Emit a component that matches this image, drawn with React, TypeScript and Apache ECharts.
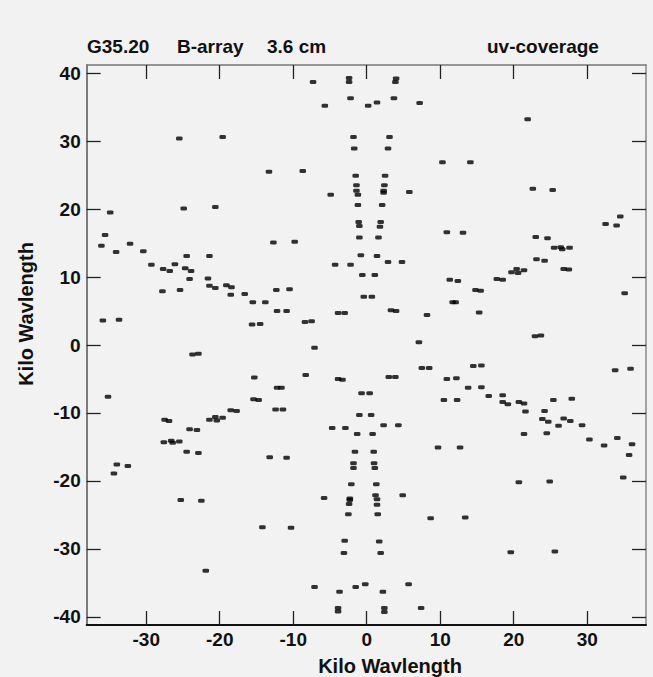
import React, { useEffect, useRef } from "react";
import * as echarts from "echarts";

const titleLeft = ["G35.20", "B-array", "3.6 cm"];
const titleRight = "uv-coverage";
const axisName = "Kilo Wavlength";
const xTicks = [-30, -20, -10, 0, 10, 20, 30];
const yTicks = [-40, -30, -20, -10, 0, 10, 20, 30, 40];

const upperLeft: number[][] = [
  [-25.5, 30.4], [-19.6, 30.6], [-13.3, 25.5], [-24.9, 20.1], [-20.6, 20.3], [-34.9, 19.5], [-35.6, 16.2],
  [-36.1, 14.6], [-32.2, 14.9], [-34.1, 13.7], [-30.4, 13.8], [-12.7, 15.1], [-24.5, 13.1], [-21.4, 13.1],
  [-2.4, 39.3], [-2.4, 38.7], [-7.3, 38.7], [-2.2, 36.3], [-5.7, 35.2], [-1.8, 30.6], [-1.7, 28.9],
  [-8.7, 25.6], [-1.5, 24.9], [-1.4, 23.5], [-1.4, 22.7], [-4.9, 22.1], [-1.2, 22.1], [-1.2, 20.6],
  [-1.1, 18.1], [-1.0, 17.5], [-1.0, 15.8], [-9.8, 15.2], [-0.8, 13.2],
  [-29.3, 11.8], [-27.7, 11.2], [-26.8, 10.9], [-26.1, 11.9], [-24.7, 11.3], [-23.9, 10.9], [-24.1, 9.7],
  [-21.6, 9.8], [-21.4, 8.7], [-20.6, 8.4], [-19.1, 8.8], [-18.4, 8.5], [-18.5, 7.4], [-16.6, 7.5],
  [-15.5, 6.3], [-13.8, 6.3], [-12.3, 8.1], [-12.2, 5.0], [-27.8, 7.9], [-25.4, 8.1], [-35.9, 3.6],
  [-33.7, 3.7], [-15.6, 3.0], [-14.5, 3.1],
  [-4.3, 11.8], [-2.2, 11.8], [-0.6, 10.3], [-10.5, 8.2], [-0.4, 7.1], [-10.9, 5.0], [-3.9, 4.7],
  [-3.0, 4.7], [-8.4, 3.4], [-7.5, 3.5],
];

const upperRight: number[][] = [
  [4.0, 39.2], [3.9, 38.7], [0.2, 35.2], [1.4, 35.7], [3.7, 36.3], [7.2, 35.6], [3.1, 30.6], [2.9, 28.9],
  [10.3, 26.9], [14.1, 26.9], [2.5, 24.9], [2.4, 23.5], [2.3, 22.7], [2.3, 22.4], [5.8, 22.5], [2.1, 20.6],
  [1.9, 18.1], [1.8, 17.4], [1.6, 15.8], [10.9, 16.6], [13.1, 16.5], [1.4, 13.1],
  [21.9, 33.2], [22.6, 23.0], [25.3, 22.8], [34.5, 18.9], [32.5, 17.8], [34.0, 17.6], [23.0, 15.9],
  [24.6, 15.7], [25.5, 14.3], [26.4, 14.4], [26.6, 14.1], [27.6, 14.3], [23.1, 12.6],
  [2.9, 12.2], [4.8, 12.2], [1.1, 10.3], [11.3, 9.6], [12.4, 9.4], [0.7, 7.1], [11.7, 6.3], [12.1, 6.3],
  [3.3, 5.1], [4.0, 5.0], [8.2, 4.4], [7.1, 0.4],
  [24.2, 12.4], [19.7, 10.7], [20.4, 11.2], [20.6, 10.6], [21.4, 11.0], [26.8, 11.2], [27.5, 11.1],
  [17.7, 9.7], [18.5, 9.6], [14.8, 8.1], [15.5, 8.0], [15.3, 4.8], [35.1, 7.6], [22.9, 1.3], [23.7, 1.4],
];

const lowerLeft: number[][] = [
  [-23.7, -1.4], [-22.9, -1.3], [-15.3, -4.8], [-12.2, -6.3], [-11.6, -6.3], [-35.2, -7.6], [-15.4, -8.0],
  [-14.7, -8.1], [-12.4, -9.5], [-11.4, -9.5], [-18.5, -9.6], [-17.7, -9.7], [-21.4, -11.0], [-20.6, -10.6],
  [-20.4, -11.1], [-19.6, -10.7], [-27.5, -11.0], [-26.9, -11.2], [-24.1, -12.4], [-23.1, -12.5],
  [-27.6, -14.3], [-26.6, -14.1], [-26.4, -14.4], [-25.5, -14.2],
  [-24.5, -15.7], [-22.9, -15.9], [-34.0, -17.6], [-32.5, -17.8], [-34.4, -18.9], [-13.2, -16.5],
  [-25.3, -22.8], [-22.5, -22.9], [-14.2, -26.8], [-21.9, -33.2],
  [-10.9, -16.6], [-1.6, -15.7], [-1.8, -17.4], [-1.8, -18.1], [-2.1, -20.5], [-5.8, -22.5], [-2.3, -22.6],
  [-2.3, -22.8], [-2.4, -23.4], [-2.5, -24.9], [-10.3, -26.9], [-3.0, -28.8], [-3.1, -30.6], [-7.1, -35.6],
  [-3.7, -36.3], [-1.5, -35.6], [-0.2, -35.2], [-3.9, -38.7], [-3.9, -39.2],
  [-7.1, -0.4], [-8.3, -4.4], [-3.9, -5.0], [-3.3, -5.1], [-0.7, -7.1], [-1.0, -10.3], [-4.7, -12.2],
  [-2.9, -12.2], [-1.3, -13.1],
];

const lowerRight: number[][] = [
  [0.95, -15.7], [1.0, -17.4], [1.1, -18.1], [1.3, -20.5], [1.2, -22.1], [1.4, -22.7], [1.4, -23.5],
  [1.5, -24.9], [4.9, -22.1], [8.7, -25.5], [13.4, -25.4], [1.7, -28.9], [1.9, -30.6], [5.7, -35.2],
  [2.2, -36.3], [2.4, -38.7], [2.4, -39.3], [7.4, -38.7], [9.7, -15.1], [12.7, -15.1],
  [30.3, -13.9], [32.3, -14.8], [36.1, -14.6], [35.7, -16.2], [34.9, -19.5], [20.7, -20.2], [24.9, -20.1],
  [19.6, -30.5], [25.6, -30.4],
  [7.5, -3.4], [8.5, -3.4], [3.0, -4.7], [3.9, -4.7], [10.9, -5.0], [12.2, -4.9], [13.8, -6.3], [0.4, -7.1],
  [10.5, -8.1], [12.3, -8.1], [0.6, -10.3], [2.3, -11.8], [4.3, -11.8], [0.8, -13.1],
  [14.5, -3.1], [15.6, -3.0], [33.8, -3.7], [35.9, -3.5], [15.6, -6.2], [16.6, -7.5], [18.5, -7.4],
  [18.5, -8.4], [19.2, -8.7], [20.7, -8.4], [21.4, -8.6], [21.6, -9.8], [24.2, -9.7], [25.4, -8.1],
  [27.9, -7.9], [23.9, -10.9], [24.7, -11.3], [26.1, -11.9], [26.8, -10.8], [27.7, -11.2], [29.3, -11.8],
  [21.4, -13.1], [24.5, -13.0], [34.1, -13.7],
];

const FONT = "'Liberation Sans', Arial, Helvetica, sans-serif";

export default function App() {
  const ref = useRef<HTMLDivElement>(null);
  useEffect(() => {
    if (!ref.current) return;
    const chart = echarts.init(ref.current, null, { renderer: "svg" });
    const labelStyle = {
      fontSize: 19,
      fontWeight: "bold" as const,
      color: "#111",
      fontFamily: FONT,
    };
    const tickStyle = { color: "#222", width: 1.3 };
    const xCommon = {
      type: "value" as const,
      min: -38.1,
      max: 38.0,
      splitLine: { show: false },
    };
    const yCommon = {
      type: "value" as const,
      min: -41.2,
      max: 41.2,
      splitLine: { show: false },
    };
    const points = [...upperLeft, ...upperRight, ...lowerLeft, ...lowerRight];
    chart.setOption({
      animation: false,
      backgroundColor: "#f2f2f2",
      grid: { left: 86.7, right: 7, top: 65, bottom: 52 },
      xAxis: [
        {
          ...xCommon,
          position: "bottom",
          axisLine: { show: true, onZero: false, lineStyle: { color: "#111", width: 2 } },
          axisTick: { show: true, inside: true, length: 14, lineStyle: tickStyle, customValues: xTicks },
          axisLabel: { ...labelStyle, margin: 5, customValues: xTicks },
        },
        {
          ...xCommon,
          position: "top",
          axisLine: { show: true, onZero: false, lineStyle: { color: "#777", width: 1.5 } },
          axisTick: { show: true, inside: true, length: 14, lineStyle: tickStyle, customValues: xTicks },
          axisLabel: { show: false },
        },
      ],
      yAxis: [
        {
          ...yCommon,
          position: "left",
          axisLine: { show: true, onZero: false, lineStyle: { color: "#555", width: 1.5 } },
          axisTick: { show: true, inside: true, length: 14, lineStyle: tickStyle, customValues: yTicks },
          axisLabel: { ...labelStyle, margin: 6, customValues: yTicks },
        },
        {
          ...yCommon,
          position: "right",
          axisLine: { show: true, onZero: false, lineStyle: { color: "#888", width: 1.5 } },
          axisTick: { show: true, inside: true, length: 14, lineStyle: tickStyle, customValues: yTicks },
          axisLabel: { show: false },
        },
      ],
      series: [
        {
          type: "scatter",
          xAxisIndex: 0,
          yAxisIndex: 0,
          data: points,
          symbol: "roundRect",
          symbolSize: [6.5, 4],
          itemStyle: { color: "#000" },
          silent: true,
        },
      ],
      graphic: [
        {
          type: "text",
          left: 87,
          top: 37,
          style: { text: titleLeft[0], font: `bold 19px ${FONT}`, fill: "#111" },
        },
        {
          type: "text",
          left: 177,
          top: 37,
          style: { text: titleLeft[1], font: `bold 19px ${FONT}`, fill: "#111" },
        },
        {
          type: "text",
          left: 267,
          top: 37,
          style: { text: titleLeft[2], font: `bold 19px ${FONT}`, fill: "#111" },
        },
        {
          type: "text",
          left: 487,
          top: 37,
          style: { text: titleRight, font: `bold 19px ${FONT}`, fill: "#111" },
        },
        {
          type: "text",
          x: 390,
          y: 666,
          style: {
            text: axisName,
            font: `bold 20px ${FONT}`,
            fill: "#111",
            align: "center",
            verticalAlign: "middle",
          },
        },
        {
          type: "text",
          x: 26,
          y: 314,
          rotation: Math.PI / 2,
          style: {
            text: axisName,
            font: `bold 20px ${FONT}`,
            fill: "#111",
            align: "center",
            verticalAlign: "middle",
          },
        },
      ],
    });
    return () => chart.dispose();
  }, []);
  return (
    <div
      ref={ref}
      style={{ position: "absolute", left: 0, top: 0, width: 653, height: 677 }}
    />
  );
}
